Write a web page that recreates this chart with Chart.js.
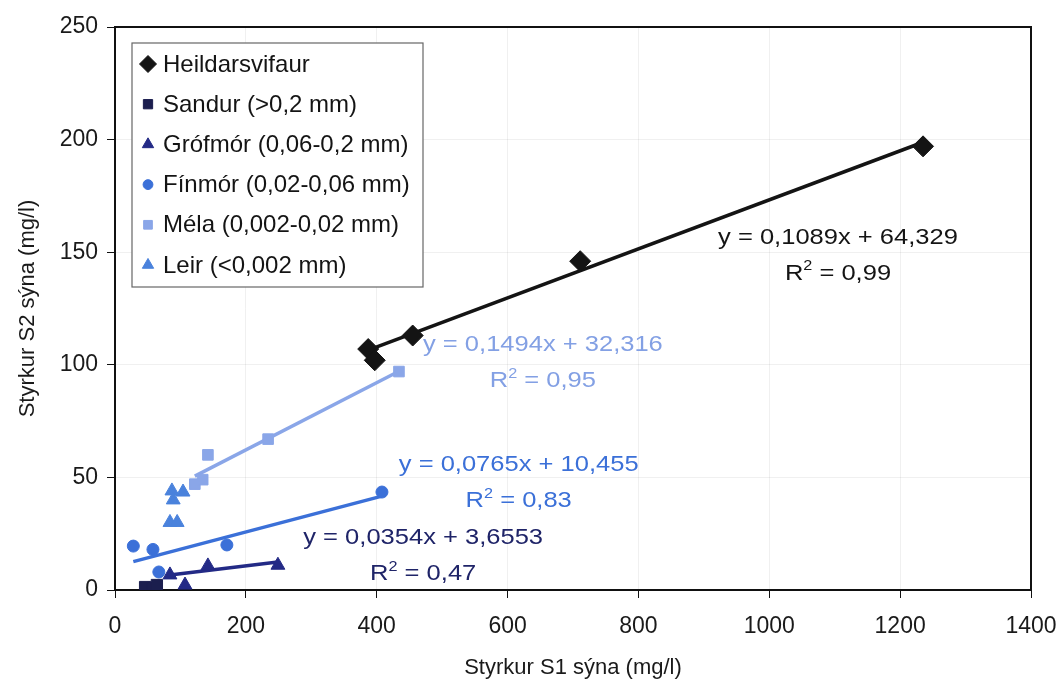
<!DOCTYPE html>
<html>
<head>
<meta charset="utf-8">
<script src="https://cdn.jsdelivr.net/npm/chart.js@4.4.1/dist/chart.umd.min.js"></script>
<style>
  html, body { margin: 0; padding: 0; background: #fff; }
  #wrap { width: 1059px; height: 684px; position: relative; }
</style>
</head>
<body>
<div id="wrap"><canvas id="chart" width="1059" height="684"></canvas></div>
<script>
// Styrkur svifaurs: samanburður sýna S1 og S2 (mg/l), eftir kornastærð

const seriesNames = [
  'Heildarsvifaur',
  'Sandur (>0,2 mm)',
  'Grófmór (0,06-0,2 mm)',
  'Fínmór (0,02-0,06 mm)',
  'Méla (0,002-0,02 mm)',
  'Leir (<0,002 mm)'
];

// S1 (x) and S2 (y) concentrations per fraction
const heildX = [387, 397, 455, 711, 1235];
const heildY = [107, 102, 113, 146, 197];
const sandurX = [46, 58, 64];
const sandurY = [1.3, 0.9, 2.2];
const grofX = [84, 107, 142, 249];
const grofY = [6.7, 2.2, 10.7, 11];
const finX = [28, 58, 67, 171, 408];
const finY = [19.5, 18, 8, 20, 43.5];
const melaX = [122, 134, 142, 234, 434];
const melaY = [47, 49, 60, 67, 97];
const leirX = [87, 104, 89, 84, 95];
const leirY = [44, 43.5, 40, 30, 30];

// linear fits (Excel trendlines) for four of the fractions
const trendSeries = [0, 4, 3, 2];
const trendSlope = [0.1089, 0.1494, 0.0765, 0.0354];
const trendIntercept = [64.329, 32.316, 10.455, 3.6553];
const trendR2 = [0.99, 0.95, 0.83, 0.47];

const xTicks = [0, 200, 400, 600, 800, 1000, 1200, 1400];
const yTicks = [0, 50, 100, 150, 200, 250];

const seriesX = [heildX, sandurX, grofX, finX, melaX, leirX];
const seriesY = [heildY, sandurY, grofY, finY, melaY, leirY];

const seriesStyle = [
  { shape: 'rectRot', r: 10.5, color: '#141414' },
  { shape: 'rect', r: 8, color: '#1b1e4e' },
  { shape: 'triangle', r: 8, color: '#232a86' },
  { shape: 'circle', r: 6, color: '#3b70d8' },
  { shape: 'rect', r: 7.5, color: '#8aa6e8' },
  { shape: 'triangle', r: 8, color: '#4a82dc' }
];

// where each equation label sits (data units, centre of the first line)
const labelAnchor = [
  { x: 1105, y: 156.5 },
  { x: 654, y: 108.8 },
  { x: 617, y: 55.5 },
  { x: 471, y: 23.1 }
];
const labelColor = ['#141414', '#83a0e4', '#3b70d8', '#1f2468'];
const trendColor = ['#141414', '#8aa6e8', '#3b70d8', '#232a86'];

const comma = v => String(v).replace('.', ',');

const datasets = [];
seriesNames.forEach((name, i) => {
  const st = seriesStyle[i];
  datasets.push({
    label: name,
    data: seriesX[i].map((x, k) => ({ x: x, y: seriesY[i][k] })),
    pointStyle: st.shape,
    pointRadius: st.r,
    backgroundColor: st.color,
    borderColor: st.color,
    borderWidth: 1,
    showLine: false,
    order: 0
  });
});

trendSeries.forEach((s, t) => {
  const xs = seriesX[s];
  const lo = Math.min(...xs), hi = Math.max(...xs);
  datasets.push({
    label: 'trend-' + t,
    data: [lo, hi].map(x => ({ x: x, y: trendSlope[t] * x + trendIntercept[t] })),
    showLine: true,
    pointRadius: 0,
    borderColor: trendColor[t],
    borderWidth: 3.5,
    order: 1
  });
});

// black frame around the plot area
const frame = {
  id: 'frame',
  beforeDatasetsDraw(chart) {
    const { ctx, chartArea: a } = chart;
    ctx.save();
    ctx.strokeStyle = '#111';
    ctx.lineWidth = 2;
    ctx.strokeRect(a.left, a.top, a.right - a.left, a.bottom - a.top);
    ctx.restore();
  }
};

// boxed legend inside the plot, top-left
const boxLegend = {
  id: 'boxLegend',
  afterDatasetsDraw(chart) {
    const { ctx, chartArea: a } = chart;
    const left = a.left + 17, top = a.top + 16, w = 291, h = 244;
    ctx.save();
    ctx.fillStyle = '#fff';
    ctx.fillRect(left, top, w, h);
    ctx.strokeStyle = '#666';
    ctx.lineWidth = 1.2;
    ctx.strokeRect(left, top, w, h);
    ctx.font = '24px "Liberation Sans", Arial, sans-serif';
    ctx.textBaseline = 'middle';
    ctx.textAlign = 'left';
    seriesNames.forEach((name, i) => {
      const st = seriesStyle[i];
      const cy = top + 21 + i * 40.2;
      ctx.fillStyle = st.color;
      ctx.strokeStyle = st.color;
      ctx.lineWidth = 1;
      Chart.helpers.drawPoint(ctx, {
        pointStyle: st.shape,
        radius: st.shape === 'rectRot' ? 8.5 : st.r * 0.82,
        rotation: 0,
        borderWidth: 1
      }, left + 16, cy);
      ctx.fillStyle = '#141414';
      ctx.fillText(name, left + 31, cy + 1);
    });
    ctx.restore();
  }
};

// trendline equations with R²
const equations = {
  id: 'equations',
  afterDatasetsDraw(chart) {
    const { ctx, scales: { x, y } } = chart;
    const fs = 22;
    trendSlope.forEach((m, t) => {
      const cx = x.getPixelForValue(labelAnchor[t].x);
      const cy = y.getPixelForValue(labelAnchor[t].y);
      ctx.save();
      ctx.fillStyle = labelColor[t];
      ctx.textBaseline = 'middle';
      ctx.translate(cx, cy);
      ctx.scale(1.16, 1);
      ctx.font = fs + 'px "Liberation Sans", Arial, sans-serif';
      ctx.textAlign = 'center';
      ctx.fillText('y = ' + comma(m) + 'x + ' + comma(trendIntercept[t]), 0, 0);
      // second line: R² = ...
      const rest = ' = ' + comma(trendR2[t]);
      ctx.textAlign = 'left';
      const wR = ctx.measureText('R').width;
      const wRest = ctx.measureText(rest).width;
      ctx.font = Math.round(fs * 0.62) + 'px "Liberation Sans", Arial, sans-serif';
      const w2 = ctx.measureText('2').width;
      const sx = -(wR + w2 + wRest) / 2;
      const ly = 36;
      ctx.fillText('2', sx + wR, ly - 7);
      ctx.font = fs + 'px "Liberation Sans", Arial, sans-serif';
      ctx.fillText('R', sx, ly);
      ctx.fillText(rest, sx + wR + w2, ly);
      ctx.restore();
    });
  }
};

const tickFont = { family: '"Liberation Sans", Arial, sans-serif', size: 23 };
const titleFont = { family: '"Liberation Sans", Arial, sans-serif', size: 22 };

new Chart(document.getElementById('chart'), {
  type: 'scatter',
  data: { datasets: datasets },
  options: {
    responsive: false,
    animation: false,
    events: [],
    layout: { padding: { top: 27, right: 28, left: 0, bottom: 0 } },
    plugins: { legend: { display: false }, tooltip: { enabled: false } },
    scales: {
      x: {
        type: 'linear',
        min: 0,
        max: 1400,
        afterBuildTicks: s => { s.ticks = xTicks.map(v => ({ value: v })); },
        afterFit: s => { s.height = 94; s.paddingLeft = 0; s.paddingRight = 0; },
        grid: { color: 'rgba(0,0,0,0.06)', tickColor: '#111', tickLength: 8, lineWidth: 1 },
        border: { display: false },
        ticks: { font: tickFont, color: '#1a1a1a', padding: 15, maxRotation: 0, callback: v => String(v) },
        title: { display: true, text: 'Styrkur S1 sýna (mg/l)', font: titleFont, color: '#1a1a1a', padding: { top: 0, bottom: 3 } }
      },
      y: {
        type: 'linear',
        min: 0,
        max: 250,
        afterBuildTicks: s => { s.ticks = yTicks.map(v => ({ value: v })); },
        afterFit: s => { s.width = 115; s.paddingTop = 0; s.paddingBottom = 0; },
        grid: { color: 'rgba(0,0,0,0.06)', tickColor: '#111', tickLength: 8, lineWidth: 1 },
        border: { display: false },
        ticks: { font: tickFont, color: '#1a1a1a', padding: 9, callback: v => String(v) },
        title: { display: true, text: 'Styrkur S2 sýna (mg/l)', font: titleFont, color: '#1a1a1a', padding: { top: 15, bottom: 0 } }
      }
    }
  },
  plugins: [frame, boxLegend, equations]
});
</script>
</body>
</html>
